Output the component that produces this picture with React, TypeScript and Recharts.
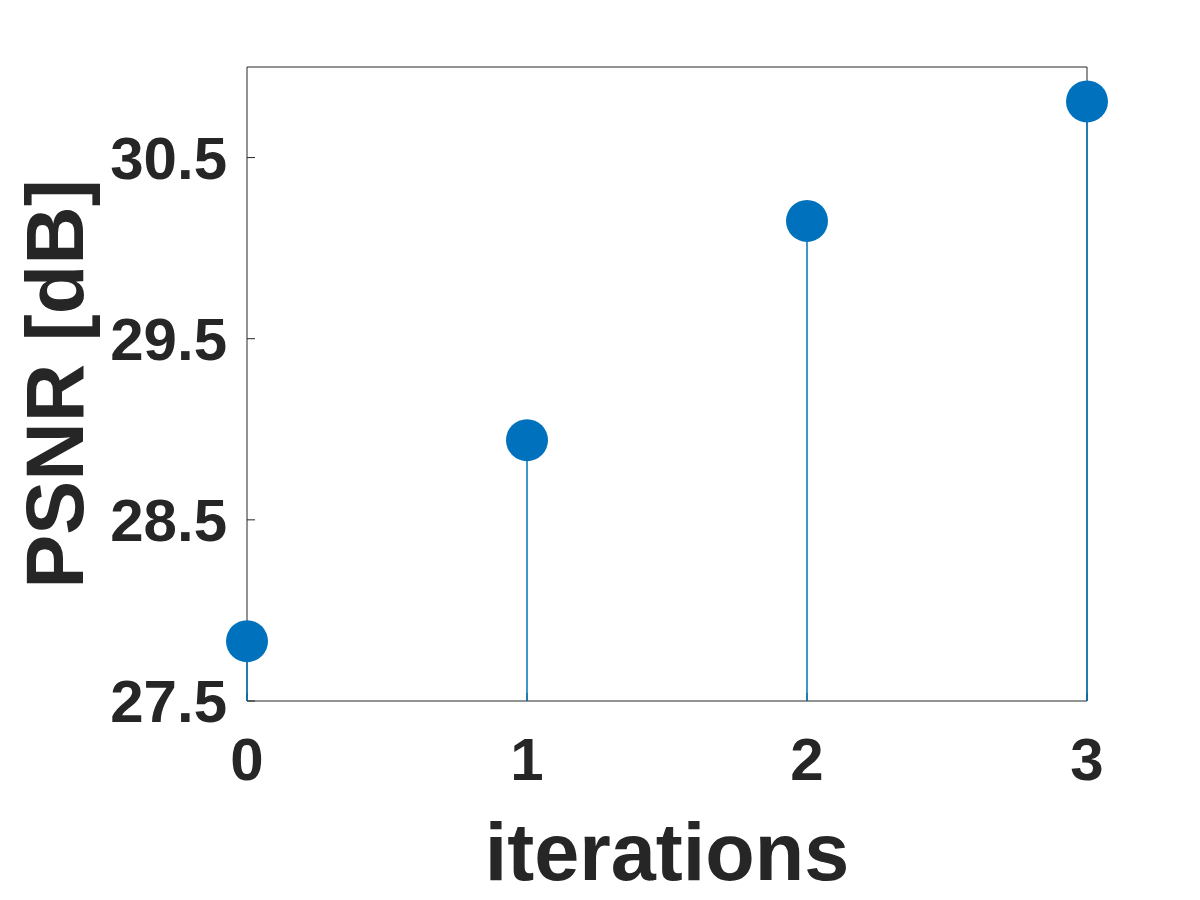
import { Bar, ComposedChart, Label, Scatter, XAxis, YAxis } from "recharts";

const iterations = [0, 1, 2, 3];
const psnr = [27.83, 28.94, 30.15, 30.81];
const xTicks = [0, 1, 2, 3];
const yTicks = [27.5, 28.5, 29.5, 30.5];

const data = iterations.map((it, i) => ({ it, psnr: psnr[i] }));

const ink = "#262626";
const blue = "#0072BD";
const font = "'Liberation Sans', Arial, Helvetica, sans-serif";

const tickStyle = { fill: ink, fontSize: 60, fontWeight: 700, fontFamily: font };

const YTitle = (props: any) => {
  const vb = props.viewBox;
  const cx = vb.x + 83;
  const cy = vb.y + vb.height / 2;
  return (
    <text
      x={cx}
      y={cy}
      transform={`rotate(-90 ${cx} ${cy})`}
      textAnchor="middle"
      fill={ink}
      fontSize={81}
      fontWeight={700}
      fontFamily={font}
    >
      PSNR [dB]
    </text>
  );
};

const XTitle = (props: any) => {
  const vb = props.viewBox;
  return (
    <text
      x={vb.x + vb.width / 2}
      y={vb.y + 179}
      textAnchor="middle"
      fill={ink}
      fontSize={81}
      fontWeight={700}
      fontFamily={font}
    >
      iterations
    </text>
  );
};

// stem line from the baseline up to the value
const Stem = (p: any) => {
  const x = p.x + p.width / 2;
  return <line x1={x} x2={x} y1={p.y} y2={p.y + p.height} stroke={blue} strokeWidth={1.5} />;
};

const Dot = (p: any) => <circle cx={p.cx} cy={p.cy} r={21} fill={blue} />;

export default function App() {
  return (
    <div style={{ position: "absolute", left: 0, top: 0, width: 1200, height: 900, background: "#fff" }}>
      <ComposedChart width={1200} height={900} data={data} margin={{ top: 66, right: 112, bottom: 0, left: 0 }}>
        <XAxis
          xAxisId="b"
          dataKey="it"
          type="number"
          domain={[0, 3]}
          ticks={xTicks}
          height={199}
          stroke={ink}
          tick={tickStyle}
          tickSize={-8}
          tickMargin={44}
          interval={0}
        >
          <Label content={XTitle} />
        </XAxis>
        <XAxis
          xAxisId="t"
          orientation="top"
          type="number"
          domain={[0, 3]}
          ticks={xTicks}
          height={1}
          stroke={ink}
          tick={false}
          tickSize={-8}
        />
        <YAxis
          yAxisId="l"
          type="number"
          domain={[27.5, 31]}
          ticks={yTicks}
          width={247}
          stroke={ink}
          tick={tickStyle}
          tickSize={-8}
          tickMargin={28}
          interval={0}
        >
          <Label content={YTitle} />
        </YAxis>
        <YAxis
          yAxisId="r"
          orientation="right"
          type="number"
          domain={[27.5, 31]}
          ticks={yTicks}
          width={1}
          stroke={ink}
          tick={false}
          tickSize={-8}
        />
        <Bar
          xAxisId="b"
          yAxisId="l"
          dataKey="psnr"
          barSize={2}
          shape={Stem}
          zIndex={550}
          isAnimationActive={false}
        />
        <Scatter xAxisId="b" yAxisId="l" dataKey="psnr" shape={Dot} zIndex={600} isAnimationActive={false} />
      </ComposedChart>
    </div>
  );
}
